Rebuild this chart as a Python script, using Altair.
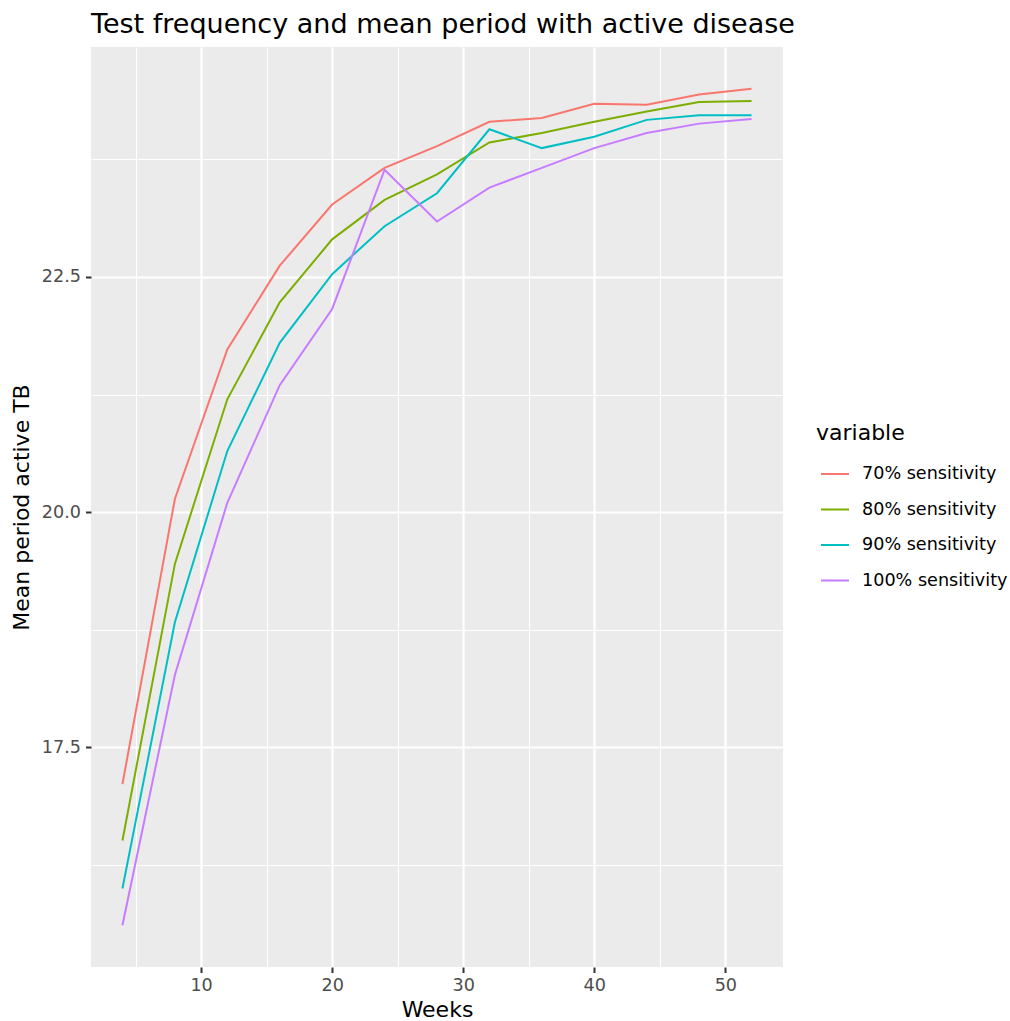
import altair as alt
import pandas as pd

weeks = [4, 8, 12, 16, 20, 24, 28, 32, 36, 40, 44, 48, 52]
sens_70 = [17.11, 20.14, 21.73, 22.62, 23.27, 23.66, 23.89, 24.15, 24.19, 24.34, 24.33, 24.44, 24.50]
sens_80 = [16.51, 19.45, 21.20, 22.23, 22.90, 23.32, 23.59, 23.93, 24.03, 24.15, 24.26, 24.36, 24.37]
sens_90 = [16.00, 18.83, 20.65, 21.80, 22.53, 23.04, 23.39, 24.07, 23.87, 23.99, 24.17, 24.22, 24.22]
sens_100 = [15.61, 18.27, 20.10, 21.35, 22.16, 23.64, 23.09, 23.45, 23.66, 23.87, 24.03, 24.13, 24.18]
series_names = ["70% sensitivity", "80% sensitivity", "90% sensitivity", "100% sensitivity"]
series_colors = ["#F8766D", "#7CAE00", "#00BFC4", "#C77CFF"]
x_breaks = [5, 10, 15, 20, 25, 30, 35, 40, 45, 50]
y_breaks = [16.25, 17.5, 18.75, 20.0, 21.25, 22.5, 23.75]

rows = []
for name, vals in zip(series_names, [sens_70, sens_80, sens_90, sens_100]):
    for w, v in zip(weeks, vals):
        rows.append({"Weeks": w, "value": v, "variable": name})
df = pd.DataFrame(rows)

allv = sens_70 + sens_80 + sens_90 + sens_100
ymin, ymax = min(allv), max(allv)
yexp = (ymax - ymin) * 0.05
xmin, xmax = min(weeks), max(weeks)
xexp = (xmax - xmin) * 0.05

FONT = "DejaVu Sans"

x_axis = alt.Axis(
    values=x_breaks,
    title="Weeks",
    labelExpr="datum.value % 10 === 0 ? datum.label : ''",
    format="d",
    domain=False,
    grid=True,
    gridColor="white",
    gridWidth={"condition": {"test": "datum.value % 10 === 0", "value": 2.2}, "value": 1.1},
    tickColor="#333333",
    tickOpacity={"condition": {"test": "datum.value % 10 === 0", "value": 1}, "value": 0},
    tickSize=5.5,
    tickWidth=2,
    labelFont=FONT,
    labelFontSize=17.6,
    labelColor="#4D4D4D",
    labelPadding=4,
    titleFont=FONT,
    titleFontSize=22,
    titleFontWeight="normal",
    titleColor="black",
    titlePadding=5,
)

y_axis = alt.Axis(
    values=y_breaks,
    title="Mean period active TB",
    labelExpr="datum.value % 2.5 === 0 ? datum.label : ''",
    format=".1f",
    domain=False,
    grid=True,
    gridColor="white",
    gridWidth={"condition": {"test": "datum.value % 2.5 === 0", "value": 2.2}, "value": 1.1},
    tickColor="#333333",
    tickOpacity={"condition": {"test": "datum.value % 2.5 === 0", "value": 1}, "value": 0},
    tickSize=5.5,
    tickWidth=2,
    labelFont=FONT,
    labelFontSize=17.6,
    labelColor="#4D4D4D",
    labelPadding=5,
    titleFont=FONT,
    titleFontSize=22,
    titleFontWeight="normal",
    titleColor="black",
    titlePadding=8,
)

chart = alt.Chart(df).mark_line(strokeWidth=2).encode(
    x=alt.X("Weeks:Q", scale=alt.Scale(domain=[xmin - xexp, xmax + xexp], nice=False, zero=False), axis=x_axis),
    y=alt.Y("value:Q", scale=alt.Scale(domain=[ymin - yexp, ymax + yexp], nice=False, zero=False), axis=y_axis),
    color=alt.Color(
        "variable:N",
        scale=alt.Scale(domain=series_names, range=series_colors),
        sort=series_names,
        legend=alt.Legend(
            title="variable",
            orient="none",
            legendX=725,
            legendY=376,
            padding=0,
            symbolType="stroke",
            symbolSize=784,
            symbolStrokeWidth=2,
            symbolOffset=4,
            labelOffset=12,
            rowPadding=11.5,
            titleFont=FONT,
            titleFontSize=22,
            titleFontWeight="normal",
            titleColor="black",
            titlePadding=14,
            labelFont=FONT,
            labelFontSize=17.6,
            labelColor="black",
        ),
    ),
    detail="variable:N",
).properties(
    width=692,
    height=920,
    background="white",
    title=alt.TitleParams(
        "Test frequency and mean period with active disease",
        anchor="start",
        frame="group",
        font=FONT,
        fontSize=27,
        fontWeight="normal",
        color="black",
        offset=8,
    ),
    padding={"left": 91, "top": 47, "right": 227, "bottom": 54},
    autosize=alt.AutoSizeParams(type="none"),
).configure_view(fill="#EBEBEB", stroke=None)

chart.save("out.html", embed_options={"renderer": "svg", "actions": False})
